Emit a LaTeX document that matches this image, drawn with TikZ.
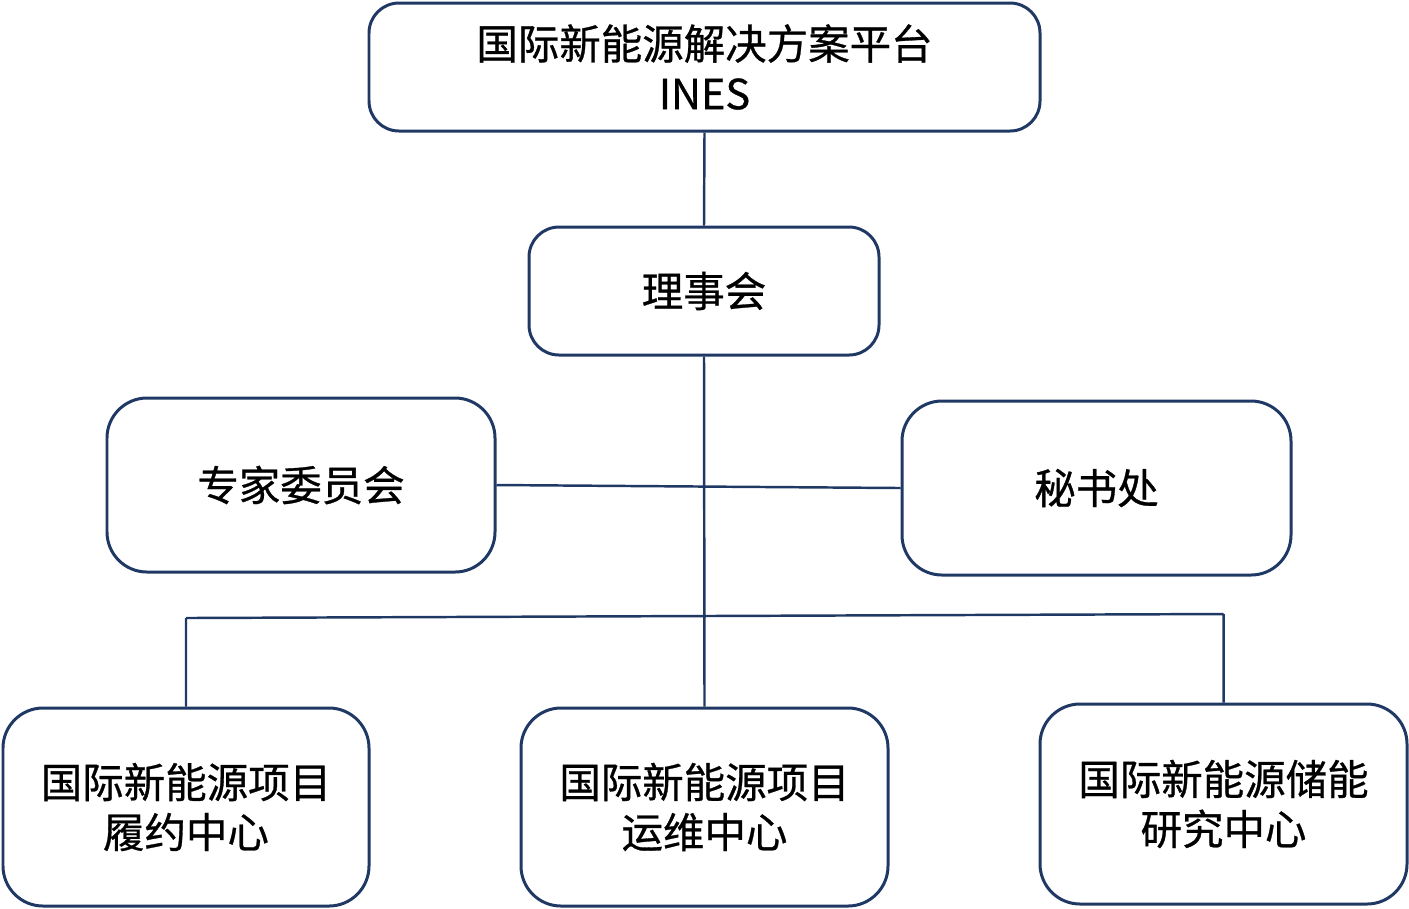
\documentclass[tikz,border=0pt]{standalone}
\usepackage{fontspec}
\setmainfont[UprightFeatures={FakeBold=0.7}]{Noto Sans CJK SC}
\usepackage{xcolor}
\definecolor{navy}{HTML}{1F3864}
\usetikzlibrary{positioning}

\begin{document}
\begin{tikzpicture}[
        % --- box and line looks ---
        orgbox/.style={
            draw=navy, line width=0.85pt, fill=white,
            rounded corners=0.3cm,
            align=center, inner sep=2pt,
            font=\fontsize{11.8}{14.2}\selectfont
        },
        bigbox/.style={orgbox, rounded corners=0.4cm},
        link/.style={draw=navy, line width=0.7pt}
    ]
    \useasboundingbox (0,0) rectangle (14.09,-9.08);

    % ==================== 1. BOXES ====================
    % Top
    \node[orgbox, minimum width=6.71cm, minimum height=1.28cm] (ines)  at (7.045,-0.67) {国际新能源解决方案平台\\INES};
    \node[orgbox, minimum width=3.50cm, minimum height=1.28cm] (board) at (7.04,-2.91)  {理事会};

    % Middle
    \node[bigbox, minimum width=3.88cm, minimum height=1.74cm] (expert)      at (3.01,-4.85)   {专家委员会};
    \node[bigbox, minimum width=3.89cm, minimum height=1.74cm] (secretariat) at (10.965,-4.88) {秘书处};

    % Bottom
    \node[bigbox, minimum width=3.66cm, minimum height=1.98cm] (compliance) at (1.86,-8.07)   {国际新能源项目\\履约中心};
    \node[bigbox, minimum width=3.67cm, minimum height=1.98cm] (operation)  at (7.045,-8.07)  {国际新能源项目\\运维中心};
    \node[bigbox, minimum width=3.67cm, minimum height=2.00cm] (research)   at (12.235,-8.04) {国际新能源储能\\研究中心};

    % Bus ends
    \coordinate (busL) at (1.86,-6.18);
    \coordinate (busR) at (12.235,-6.14);

    % ==================== 2. CONNECTORS ====================
    \path[link]
        (ines.south)       -- (board.north)
        (board.south)      -- (operation.north)
        (expert.east)      -- (secretariat.west)
        (busL)             -- (busR)
        (busL)             -- (compliance.north)
        (busR)             -- (research.north);

\end{tikzpicture}
\end{document}
